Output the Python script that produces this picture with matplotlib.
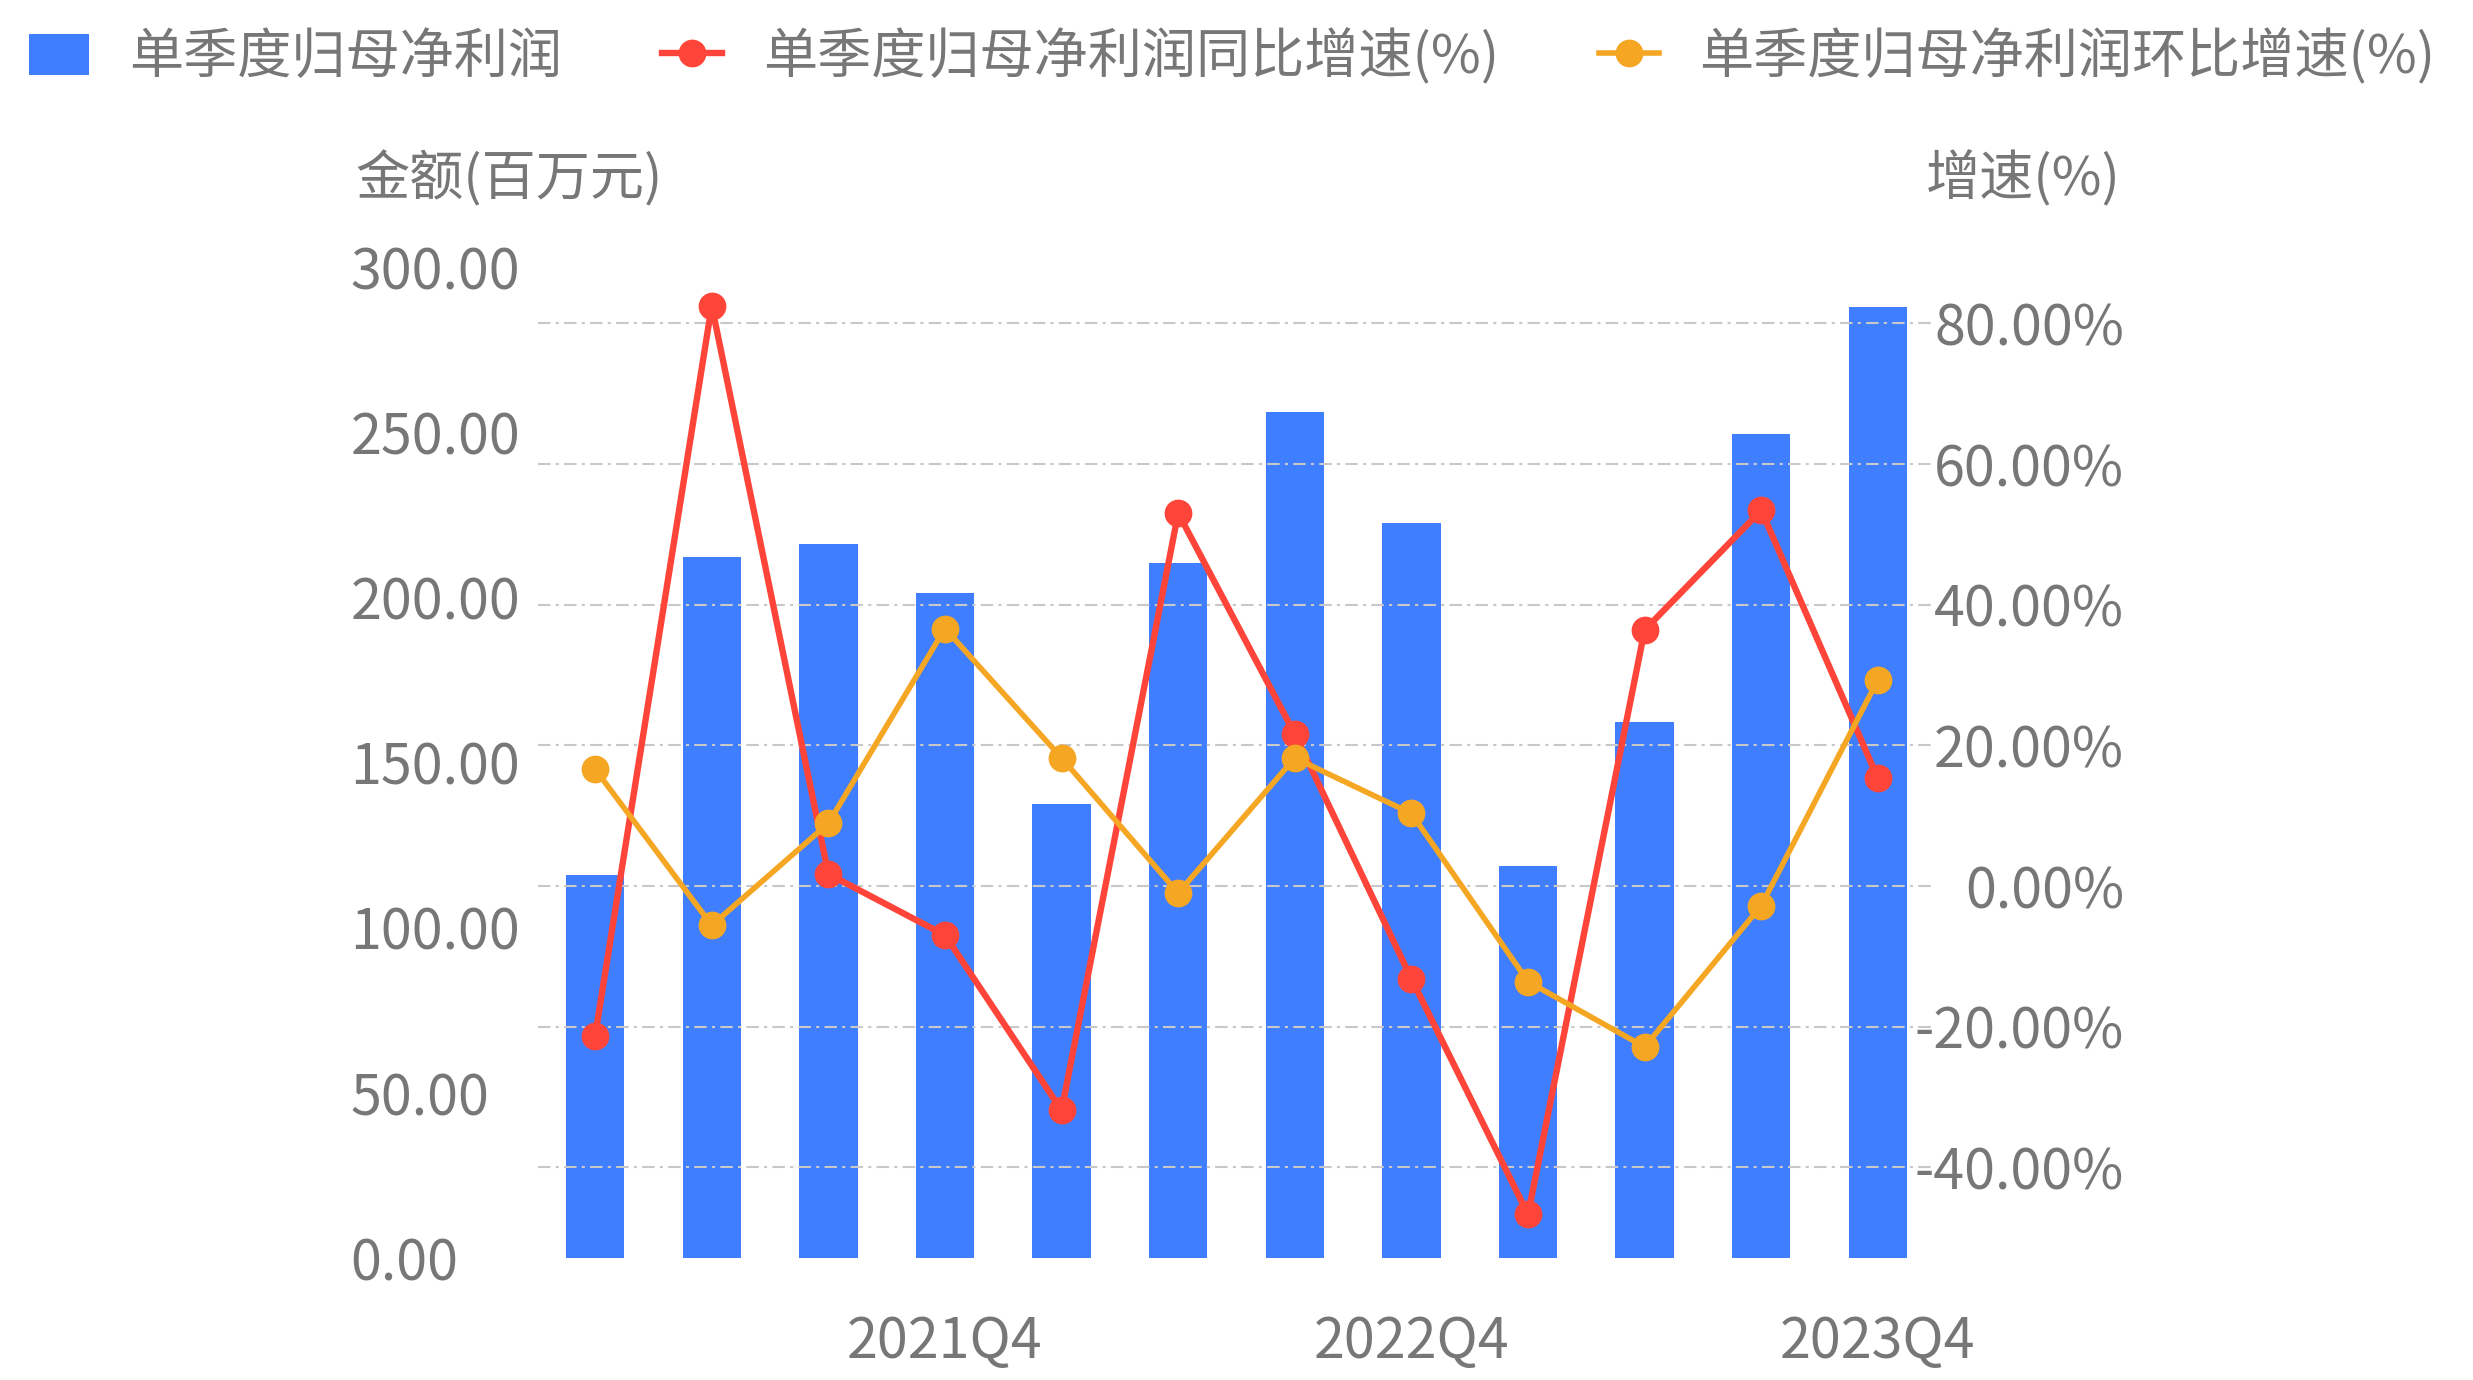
import matplotlib
matplotlib.use('Agg')
import matplotlib.pyplot as plt
import numpy as np

plt.rcParams['font.family'] = ['Noto Sans CJK SC', 'DejaVu Sans']

# 数据 (单位: 百万元 / %)
quarters = ['2021Q1', '2021Q2', '2021Q3', '2021Q4',
            '2022Q1', '2022Q2', '2022Q3', '2022Q4',
            '2023Q1', '2023Q2', '2023Q3', '2023Q4']
profit = [115.9, 212.1, 216.1, 201.3, 137.3, 210.4,
          256.1, 222.5, 118.8, 162.3, 249.4, 287.8]
yoy = [-21.3, 82.5, 1.7, -7.0, -31.9, 53.0,
       21.6, -13.2, -46.7, 36.4, 53.4, 15.3]
qoq = [16.6, -5.6, 8.9, 36.6, 18.2, -1.0,
       18.2, 10.3, -13.6, -22.9, -2.8, 29.3]
left_ticks = [0, 50, 100, 150, 200, 250, 300]
right_ticks = [-40, -20, 0, 20, 40, 60, 80]
shown_x = ['2021Q4', '2022Q4', '2023Q4']

c_bar = '#3f7eff'
c_red = '#ff4539'
c_orange = '#f5a623'
c_text = '#777777'
fs = 40

W, H = 2473, 1380
fig = plt.figure(figsize=(W / 100, H / 100), dpi=100)
ax_l, ax_r, ax_t, ax_b = 538, 1935, 267, 1258
ax = fig.add_axes([ax_l / W, 1 - ax_b / H, (ax_r - ax_l) / W, (ax_b - ax_t) / H])
ax2 = ax.twinx()

x = np.arange(len(quarters))
bars = ax.bar(x, profit, width=0.5, color=c_bar, label='单季度归母净利润', zorder=1)
ax.set_xlim(-0.49, len(quarters) - 0.51)
ax.set_ylim(0, 300)

l1, = ax2.plot(x, yoy, color=c_red, lw=4.6, marker='o', ms=20, mew=0,
               label='单季度归母净利润同比增速(%)', zorder=3)
l2, = ax2.plot(x, qoq, color=c_orange, lw=4.0, marker='o', ms=20, mew=0,
               label='单季度归母净利润环比增速(%)', zorder=4)
ax2.set_ylim(-52.9, 88.0)

# 网格线只在右轴
ax2.set_yticks(right_ticks)
ax2.set_yticklabels([f'{v:.2f}%' for v in right_ticks])
ax2.grid(axis='y', color='#c8c8c8', lw=1.5, linestyle=(0, (6, 2.5, 1.5, 2.5)))
ax2.set_axisbelow(False)
for gl in ax2.get_ygridlines():
    gl.set_zorder(2)

ax.set_yticks(left_ticks)
ax.set_yticklabels([f'{v:.2f}' for v in left_ticks])
ax.set_xticks([quarters.index(q) for q in shown_x])
ax.set_xticklabels(shown_x)

for a in (ax, ax2):
    for s in a.spines.values():
        s.set_visible(False)

ax.tick_params(axis='y', length=0, pad=135, labelsize=fs, labelcolor=c_text)
for t in ax.get_yticklabels():
    t.set_horizontalalignment('left')
ax2.tick_params(axis='y', length=0, pad=136, labelsize=fs, labelcolor=c_text)
for t in ax2.get_yticklabels():
    t.set_horizontalalignment('right')
ax.tick_params(axis='x', length=0, pad=40, labelsize=fs, labelcolor=c_text)

fig.text(355 / W, 1 - 179 / H, '金额(百万元)', fontsize=39, color=c_text,
         ha='left', va='center')
fig.text(2121 / W, 1 - 179 / H, '增速(%)', fontsize=39, color=c_text,
         ha='right', va='center')

fig.legend(handles=[bars, l1, l2], loc='center left',
           bbox_to_anchor=(29 / W, 1 - 57 / H), ncol=3, frameon=False,
           fontsize=39, labelcolor=c_text, borderpad=0, borderaxespad=0,
           handlelength=1.1, handleheight=0.8, handletextpad=0.75,
           columnspacing=1.85)

fig.savefig('out.png', dpi=100)
